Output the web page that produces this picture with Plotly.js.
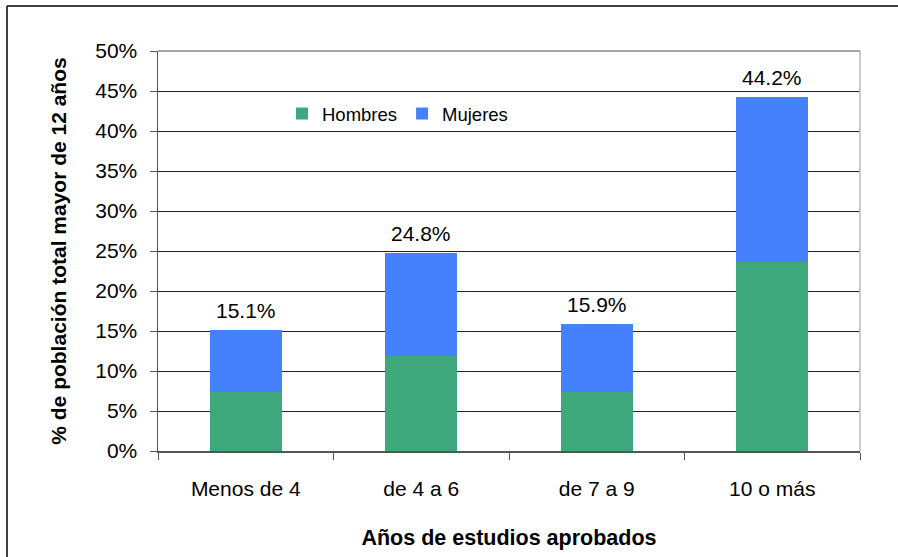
<!DOCTYPE html>
<html>
<head>
<meta charset="utf-8">
<script src="https://cdn.plot.ly/plotly-3.0.1.min.js"></script>
<style>
html,body{margin:0;padding:0;background:#fff;}
#chart{width:898px;height:557px;}
</style>
</head>
<body>
<div id="chart"></div>
<script>
const categories = ["Menos de 4", "de 4 a 6", "de 7 a 9", "10 o más"];
const hombres = [7.4, 11.9, 7.4, 23.6];
const mujeres = [7.7, 12.9, 8.5, 20.6];
const totales = [15.1, 24.8, 15.9, 44.2];
const totalLabels = ["15.1%", "24.8%", "15.9%", "44.2%"];
const yTicks = [0, 5, 10, 15, 20, 25, 30, 35, 40, 45, 50];
const yTickLabels = ["0%", "5%", "10%", "15%", "20%", "25%", "30%", "35%", "40%", "45%", "50%"];

const font = "Liberation Sans, Arial, sans-serif";

const traces = [
  {type: "bar", name: "Hombres", x: categories, y: hombres,
   marker: {color: "#3EA77B", line: {width: 0}}, hoverinfo: "skip"},
  {type: "bar", name: "Mujeres", x: categories, y: mujeres,
   marker: {color: "#4581FD", line: {width: 0}}, hoverinfo: "skip"}
];

const L = 158, R = 860, T = 51, B = 451;
const W = 898, H = 557;
const px = v => (v - L) / (R - L);
const py = v => (B - v) / (B - T);

const annotations = categories.map((c, i) => ({
  x: c, y: totales[i], xref: "x", yref: "y", text: totalLabels[i],
  showarrow: false, yanchor: "bottom", xanchor: "center", yshift: 6,
  font: {family: font, size: 21, color: "#000"}
}));

const layout = {
  width: W, height: H,
  margin: {l: L, r: W - R, t: T, b: H - B},
  paper_bgcolor: "#fff", plot_bgcolor: "#fff",
  barmode: "stack",
  bargap: 0.59,
  font: {family: font, size: 21, color: "#000"},
  showlegend: true,
  legend: {orientation: "h", traceorder: "normal", x: px(282), y: py(95), xanchor: "left", yanchor: "top",
           font: {family: font, size: 18.5, color: "#000"}, bgcolor: "rgba(0,0,0,0)",
           itemwidth: 30, tracegroupgap: 0},
  xaxis: {
    type: "category", tickson: "boundaries", ticks: "outside", ticklen: 7,
    tickcolor: "#555", showline: true, linecolor: "#555", linewidth: 1.5,
    showgrid: false, zeroline: false, ticklabelstandoff: 18,
    tickfont: {family: font, size: 21, color: "#000"},
    title: {text: "Años de estudios aprobados", standoff: 31,
            font: {family: font, size: 21.5, color: "#000", weight: "bold"}}
  },
  yaxis: {
    range: [0, 50], tickmode: "array", tickvals: yTicks, ticktext: yTickLabels,
    ticks: "outside", ticklen: 7, tickcolor: "#555",
    showline: true, linecolor: "#555", linewidth: 1.5,
    showgrid: true, gridcolor: "#222", gridwidth: 1, zeroline: false,
    ticklabelstandoff: 8,
    tickfont: {family: font, size: 21, color: "#000"},
    title: {text: "% de población total mayor de 12 años", standoff: 23,
            font: {family: font, size: 21, color: "#000", weight: "bold"}}
  },
  annotations: annotations,
  shapes: [
    {type: "line", xref: "paper", yref: "paper", x0: 1, x1: 1, y0: 0, y1: 1,
     line: {color: "#bbb", width: 1.5}},
    {type: "line", xref: "paper", yref: "paper", x0: 0, x1: 1, y0: 1, y1: 1,
     line: {color: "#888", width: 1.5}},
    {type: "line", xref: "paper", yref: "paper", x0: px(7), x1: px(7), y0: py(6), y1: py(600),
     line: {color: "#000", width: 1.5}},
    {type: "line", xref: "paper", yref: "paper", x0: px(7), x1: px(1000), y0: py(6), y1: py(6),
     line: {color: "#000", width: 1.5}}
  ]
};

Plotly.newPlot("chart", traces, layout, {displayModeBar: false, staticPlot: true});
</script>
</body>
</html>
